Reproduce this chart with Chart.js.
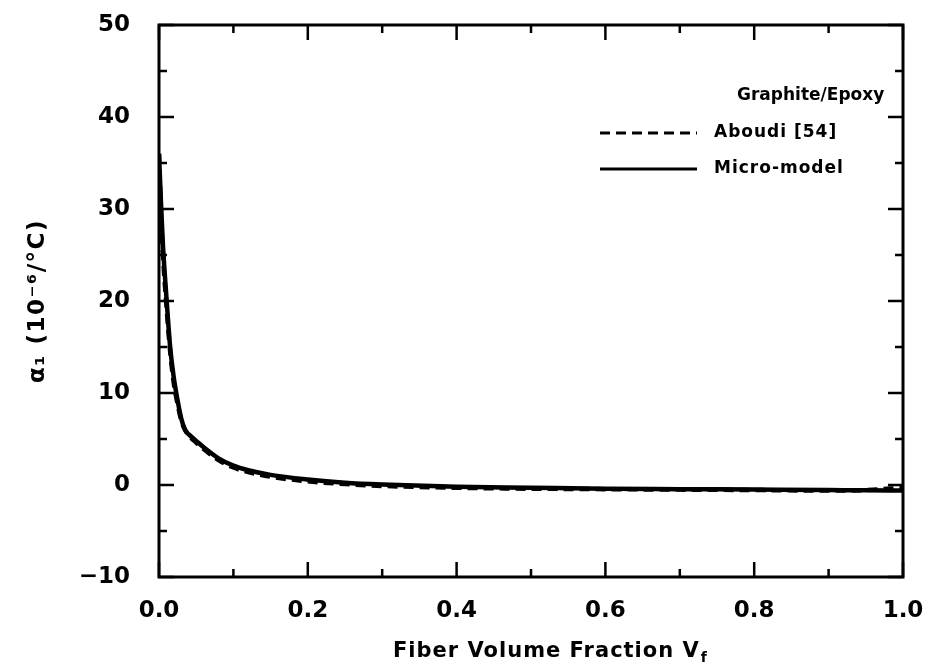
<!DOCTYPE html>
<html>
<head>
    <title>Graphite/Epoxy alpha1</title>
    <style>
        body {
            margin: 0;
            padding: 0;
            background-color: #ffffff;
        }

        #chart-box {
            width: 928px;
            height: 668px;
        }
    </style>
    <script src="https://cdn.jsdelivr.net/npm/chart.js"></script>
</head>
<body>
    <div id="chart-box">
        <canvas id="alpha-chart"></canvas>
    </div>

<script>
    // Fiber volume fraction (shared by both curves)
    var fraction = [0, 0.002, 0.005, 0.01, 0.015, 0.02, 0.025, 0.03, 0.035, 0.04, 0.05, 0.06, 0.08,
        0.1, 0.12, 0.15, 0.2, 0.25, 0.3, 0.4, 0.5, 0.6, 0.7, 0.8, 0.9, 0.95, 1.0];

    // alpha_1 in 10^-6 / degC
    var alphaMicro = [36, 32, 26.5, 20.4, 15, 11.6, 9.2, 7.2, 6.0, 5.5, 4.8, 4.1, 2.9,
        2.1, 1.6, 1.1, 0.6, 0.25, 0.05, -0.2, -0.3, -0.4, -0.45, -0.5, -0.55, -0.58, -0.6];
    var alphaAboudi = [36, 31, 25.5, 19.5, 14.5, 11, 8.8, 7.0, 6.0, 5.4, 4.6, 3.9, 2.7,
        1.9, 1.4, 0.9, 0.4, 0.1, -0.1, -0.3, -0.4, -0.45, -0.5, -0.55, -0.6, -0.55, -0.3];

    var xTicks = [0, 0.2, 0.4, 0.6, 0.8, 1.0];
    var yTicks = [-10, 0, 10, 20, 30, 40, 50];

    var legendTitle = 'Graphite/Epoxy';
    var seriesNames = ['Aboudi [54]', 'Micro-model'];

    var FONT = '"DejaVu Sans", sans-serif';

    function toPoints(xs, ys) {
        var pts = [];
        for (var i = 0; i < xs.length; i++) {
            pts.push({x: xs[i], y: ys[i]});
        }
        return pts;
    }

    function noPadding(scale) {
        scale.paddingTop = 0;
        scale.paddingBottom = 0;
        scale.paddingLeft = 0;
        scale.paddingRight = 0;
    }

    // frame, inward ticks, axis titles and the little legend
    var decorations = {
        id: 'decorations',
        afterDraw: function(chart) {
            var ctx = chart.ctx;
            var area = chart.chartArea;
            var xs = chart.scales.x;
            var ys = chart.scales.y;
            ctx.save();
            ctx.strokeStyle = '#000';
            ctx.lineWidth = 3;
            ctx.strokeRect(area.left, area.top, area.right - area.left, area.bottom - area.top);

            ctx.lineWidth = 2.5;
            ctx.beginPath();
            // x ticks, major on the labels and minor in between
            for (var i = 0; i < xTicks.length; i++) {
                var px = xs.getPixelForValue(xTicks[i]);
                ctx.moveTo(px, area.bottom); ctx.lineTo(px, area.bottom - 15);
                ctx.moveTo(px, area.top); ctx.lineTo(px, area.top + 15);
                if (i < xTicks.length - 1) {
                    var mx = xs.getPixelForValue((xTicks[i] + xTicks[i + 1]) / 2);
                    ctx.moveTo(mx, area.bottom); ctx.lineTo(mx, area.bottom - 8);
                    ctx.moveTo(mx, area.top); ctx.lineTo(mx, area.top + 8);
                }
            }
            for (var j = 0; j < yTicks.length; j++) {
                var py = ys.getPixelForValue(yTicks[j]);
                ctx.moveTo(area.left, py); ctx.lineTo(area.left + 15, py);
                ctx.moveTo(area.right, py); ctx.lineTo(area.right - 15, py);
                if (j < yTicks.length - 1) {
                    var my = ys.getPixelForValue((yTicks[j] + yTicks[j + 1]) / 2);
                    ctx.moveTo(area.left, my); ctx.lineTo(area.left + 8, my);
                    ctx.moveTo(area.right, my); ctx.lineTo(area.right - 8, my);
                }
            }
            ctx.stroke();

            ctx.fillStyle = '#000';
            ctx.textBaseline = 'alphabetic';

            // x title with subscript f
            ctx.font = 'bold 21px ' + FONT;
            ctx.letterSpacing = '1px';
            ctx.textAlign = 'left';
            var xt = 'Fiber Volume Fraction V';
            ctx.fillText(xt, 393, 657);
            var w = ctx.measureText(xt).width;
            ctx.font = 'bold 14px ' + FONT;
            ctx.fillText('f', 393 + w + 1, 662);

            // y title, rotated
            ctx.save();
            ctx.translate(44, (area.top + area.bottom) / 2);
            ctx.rotate(-Math.PI / 2);
            ctx.textAlign = 'center';
            ctx.font = 'bold 23px ' + FONT;
            ctx.letterSpacing = '1.5px';
            ctx.fillText('\u03b1\u2081 (10\u207b\u2076/\u00b0C)', 0, 0);
            ctx.restore();

            // legend
            ctx.letterSpacing = '0px';
            ctx.font = 'bold 17px ' + FONT;
            ctx.textAlign = 'left';
            ctx.textBaseline = 'middle';
            ctx.fillText(legendTitle, 737, 96);
            ctx.letterSpacing = '1px';
            var rows = [133, 169];
            for (var k = 0; k < chart.data.datasets.length; k++) {
                var ds = chart.data.datasets[k];
                ctx.beginPath();
                ctx.lineWidth = 3;
                ctx.setLineDash(ds.borderDash || []);
                ctx.moveTo(600, rows[k]);
                ctx.lineTo(697, rows[k]);
                ctx.stroke();
                ctx.setLineDash([]);
                ctx.fillText(ds.label, 714, rows[k]);
            }
            ctx.restore();
        }
    };

    var ctx = document.getElementById('alpha-chart').getContext('2d');
    var myChart = new Chart(ctx, {
        type: 'line',
        data: {
            datasets: [
                {
                    label: seriesNames[0],
                    data: toPoints(fraction, alphaAboudi),
                    borderColor: '#000',
                    borderWidth: 4.5,
                    borderDash: [10, 6],
                    pointRadius: 0,
                    fill: false,
                    cubicInterpolationMode: 'monotone'
                },
                {
                    label: seriesNames[1],
                    data: toPoints(fraction, alphaMicro),
                    borderColor: '#000',
                    borderWidth: 4.5,
                    pointRadius: 0,
                    fill: false,
                    cubicInterpolationMode: 'monotone'
                }
            ]
        },
        options: {
            responsive: true,
            maintainAspectRatio: false,
            animation: false,
            layout: {
                padding: {left: 0, right: 25, top: 25, bottom: 0}
            },
            plugins: {
                legend: {display: false},
                tooltip: {enabled: false}
            },
            scales: {
                x: {
                    type: 'linear',
                    min: 0,
                    max: 1,
                    afterFit: function(scale) { scale.height = 91; noPadding(scale); },
                    afterBuildTicks: function(scale) {
                        scale.ticks = xTicks.map(function(v) { return {value: v}; });
                    },
                    grid: {display: false, drawTicks: false},
                    border: {display: false},
                    ticks: {
                        padding: 20,
                        color: '#000',
                        font: {family: FONT, size: 23, weight: 'bold'},
                        callback: function(v) { return v.toFixed(1); }
                    }
                },
                y: {
                    type: 'linear',
                    min: -10,
                    max: 50,
                    afterFit: function(scale) { scale.width = 159; noPadding(scale); },
                    afterBuildTicks: function(scale) {
                        scale.ticks = yTicks.map(function(v) { return {value: v}; });
                    },
                    grid: {display: false, drawTicks: false},
                    border: {display: false},
                    ticks: {
                        padding: 29,
                        color: '#000',
                        font: {family: FONT, size: 23, weight: 'bold'},
                        callback: function(v) { return v < 0 ? '\u2212' + Math.abs(v) : String(v); }
                    }
                }
            }
        },
        plugins: [decorations]
    });
</script>

</body>
</html>
